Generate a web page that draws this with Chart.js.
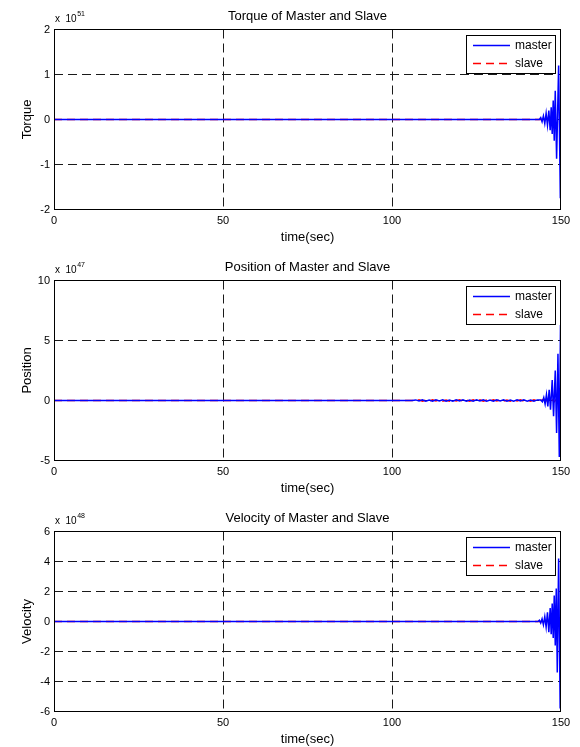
<!DOCTYPE html>
<html>
<head>
<meta charset="utf-8">
<title>Master and Slave</title>
<script src="https://cdn.jsdelivr.net/npm/chart.js@4.4.1/dist/chart.umd.min.js"></script>
<style>
  html, body { margin: 0; padding: 0; background: #fff; }
  body { width: 580px; height: 747px; overflow: hidden; position: relative; }
  .panel { position: absolute; left: 0; width: 580px; height: 251px; }
</style>
</head>
<body>
<div class="panel" style="top:0"><canvas id="torque" width="580" height="251"></canvas></div>
<div class="panel" style="top:251px"><canvas id="position" width="580" height="251"></canvas></div>
<div class="panel" style="top:502px"><canvas id="velocity" width="580" height="251"></canvas></div>
<script>
// shared time axis (sec)
const xTicks = [0, 50, 100, 150];

// Torque, units of 10^51
const torqueTicks = [-2, -1, 0, 1, 2];
const torqueMasterTime = [0, 143.6, 144.0, 144.4, 144.8, 145.2, 145.6, 146.0, 146.4, 146.8, 147.1, 147.4, 147.7, 148.0, 148.3, 148.7, 149.3, 149.8];
const torqueMaster     = [0, 0, 0.04, -0.05, 0.08, -0.09, 0.14, -0.13, 0.2, -0.24, 0.27, -0.32, 0.42, -0.47, 0.64, -0.87, 1.2, -1.75];
const torqueSlaveTime  = [0, 147, 148, 149, 149.5, 150];
const torqueSlave      = [0, 0, 0.01, -0.02, 0.03, 0.05];

// Position, units of 10^47
const positionTicks = [-5, 0, 5, 10];
const positionMasterTime = [0, 106,
  107, 108, 109, 110, 111, 112, 113, 114, 115, 116, 117, 118, 119, 120, 121, 122, 123, 124, 125,
  126, 127, 128, 129, 130, 131, 132, 133, 134, 135, 136, 137, 138, 139, 140, 141, 142, 143,
  144, 144.5, 144.9, 145.3, 145.7, 146.1, 146.5, 146.9, 147.4, 147.8, 148.3, 148.7, 149.1, 149.5, 149.85];
const positionMaster = [0, 0,
  0.05, -0.04, 0.06, -0.05, 0.04, -0.06, 0.05, -0.03, 0.06, -0.05, 0.04, -0.06, 0.05, -0.04, 0.06, -0.05, 0.03, -0.06, 0.05,
  -0.04, 0.06, -0.05, 0.04, -0.06, 0.05, -0.04, 0.06, -0.05, 0.04, -0.06, 0.05, -0.04, 0.06, -0.05, 0.04, -0.06, 0.05,
  0.05, -0.1, 0.25, -0.3, 0.5, -0.5, 0.89, -0.77, 1.7, -1.3, 2.5, -2.7, 3.9, -4.7, 6.3];
const positionSlaveTime = [0, 106,
  107, 108, 109, 110, 111, 112, 113, 114, 115, 116, 117, 118, 119, 120, 121, 122, 123, 124, 125,
  126, 127, 128, 129, 130, 131, 132, 133, 134, 135, 136, 137, 138, 139, 140, 141, 142, 143,
  144, 145, 146, 147, 148, 149, 150];
const positionSlave = [0, 0,
  -0.04, 0.05, -0.06, 0.04, -0.05, 0.06, -0.03, 0.05, -0.06, 0.04, -0.05, 0.06, -0.04, 0.05, -0.06, 0.03, -0.05, 0.06, -0.04,
  0.05, -0.06, 0.04, -0.05, 0.06, -0.04, 0.05, -0.06, 0.04, -0.05, 0.06, -0.04, 0.05, -0.06, 0.04, -0.05, 0.06, -0.04,
  0, 0.1, -0.05, 0.15, -0.1, 0.2, -0.1];

// Velocity, units of 10^48
const velocityTicks = [-6, -4, -2, 0, 2, 4, 6];
const velocityMasterTime = [0, 143.2, 143.6, 144.0, 144.4, 144.8, 145.2, 145.6, 146.0, 146.4, 146.8, 147.1, 147.4, 147.7, 148.0, 148.3, 148.6, 148.9, 149.3, 149.75];
const velocityMaster     = [0, 0, 0.08, -0.1, 0.18, -0.22, 0.32, -0.38, 0.62, -0.71, 0.9, -0.85, 1.2, -1.1, 1.73, -1.6, 2.2, -3.4, 4.2, -5.8];
const velocitySlaveTime  = [0, 148, 149, 149.6, 150];
const velocitySlave      = [0, 0, 0.05, -0.05, 0.1];

const FONT = 'Arial, "Liberation Sans", sans-serif';
const MASTER_COLOR = '#0000ff';
const SLAVE_COLOR = '#ff0000';
const SLAVE_DASH = [8, 5];
const GRID_DASH = [9, 5];
const LINE_W = 1.5;

function toPoints(times, values) {
  return times.map((t, i) => ({ x: t, y: values[i] }));
}

// title, exponent note, box and legend drawn the MATLAB way
const matlabFrame = {
  id: 'matlabFrame',
  afterDraw(chart, args, opts) {
    const { ctx, chartArea: ca } = chart;
    const left = Math.round(ca.left), top = Math.floor(ca.top);
    const right = Math.round(ca.right), bottom = Math.floor(ca.bottom);
    ctx.save();

    // axes box
    ctx.strokeStyle = '#000';
    ctx.lineWidth = 1;
    ctx.setLineDash([]);
    ctx.strokeRect(left + 0.5, top + 0.5, right - left - 1, bottom - top);

    // title
    ctx.fillStyle = '#000';
    ctx.font = '13px ' + FONT;
    ctx.textAlign = 'center';
    ctx.textBaseline = 'alphabetic';
    ctx.fillText(opts.title, (left + right) / 2, top - 9.5);

    // exponent note
    ctx.textAlign = 'left';
    ctx.font = '10px ' + FONT;
    ctx.fillText('x  10', left + 1, top - 7.5);
    const w = ctx.measureText('x  10').width;
    ctx.font = '7px ' + FONT;
    ctx.fillText(opts.exponent, left + 1 + w + 0.5, top - 13);

    // legend
    const bx = right - 95, by = top + 6, bw = 89, bh = 38;
    ctx.fillStyle = '#fff';
    ctx.fillRect(bx, by, bw, bh);
    ctx.strokeStyle = '#000';
    ctx.strokeRect(bx + 0.5, by + 0.5, bw, bh);
    const entries = [
      { label: 'master', color: MASTER_COLOR, dash: [] },
      { label: 'slave', color: SLAVE_COLOR, dash: SLAVE_DASH },
    ];
    entries.forEach((e, i) => {
      const y = by + 10.5 + i * 18;
      ctx.strokeStyle = e.color;
      ctx.lineWidth = LINE_W;
      ctx.setLineDash(e.dash);
      ctx.beginPath();
      ctx.moveTo(bx + 7, y);
      ctx.lineTo(bx + 44, y);
      ctx.stroke();
      ctx.setLineDash([]);
      ctx.fillStyle = '#000';
      ctx.font = '12px ' + FONT;
      ctx.textBaseline = 'middle';
      ctx.fillText(e.label, bx + 49, y + 0.5);
    });
    ctx.restore();
  }
};

function buildPanel(id, title, exponent, yLabel, yTicks, masterT, masterY, slaveT, slaveY) {
  const yMin = yTicks[0], yMax = yTicks[yTicks.length - 1];
  const xMin = xTicks[0], xMax = xTicks[xTicks.length - 1];
  const gridColor = (lo, hi) => c =>
    (c.tick && (c.tick.value === lo || c.tick.value === hi)) ? 'rgba(0,0,0,0)' : '#1a1a1a';

  new Chart(document.getElementById(id), {
    type: 'line',
    data: {
      datasets: [
        {
          label: 'master',
          data: toPoints(masterT, masterY),
          borderColor: MASTER_COLOR,
          borderWidth: LINE_W,
          pointRadius: 0,
          tension: 0,
        },
        {
          label: 'slave',
          data: toPoints(slaveT, slaveY),
          borderColor: SLAVE_COLOR,
          borderWidth: LINE_W,
          borderDash: SLAVE_DASH,
          pointRadius: 0,
          tension: 0,
        },
      ],
    },
    options: {
      responsive: false,
      animation: false,
      events: [],
      // half-pixel top so the zero lines land on pixel centres
      layout: { padding: { top: 29.5, right: 19, left: 0, bottom: 0 } },
      scales: {
        x: {
          type: 'linear',
          min: xMin,
          max: xMax,
          afterBuildTicks: s => { s.ticks = xTicks.map(v => ({ value: v })); },
          afterFit: s => { s.height = 41.5; },
          grid: { color: gridColor(xMin, xMax), drawTicks: false, lineWidth: 1 },
          border: { display: false, dash: GRID_DASH },
          ticks: { color: '#000', padding: 5, font: { family: FONT, size: 11 } },
          title: {
            display: true, text: 'time(sec)', color: '#000',
            font: { family: FONT, size: 13 }, padding: { top: 0, bottom: 6 },
          },
        },
        y: {
          min: yMin,
          max: yMax,
          afterBuildTicks: s => { s.ticks = yTicks.map(v => ({ value: v })); },
          afterFit: s => { s.width = 54; },
          grid: { color: gridColor(yMin, yMax), drawTicks: false, lineWidth: 1 },
          border: { display: false, dash: GRID_DASH },
          ticks: { color: '#000', padding: 4, font: { family: FONT, size: 11 } },
          title: {
            display: true, text: yLabel, color: '#000',
            font: { family: FONT, size: 13 }, padding: { top: 20, bottom: 0 },
          },
        },
      },
      plugins: {
        legend: { display: false },
        tooltip: { enabled: false },
        matlabFrame: { title, exponent },
      },
    },
    plugins: [matlabFrame],
  });
}

buildPanel('torque', 'Torque of Master and Slave', '51', 'Torque', torqueTicks,
  torqueMasterTime, torqueMaster, torqueSlaveTime, torqueSlave);
buildPanel('position', 'Position of Master and Slave', '47', 'Position', positionTicks,
  positionMasterTime, positionMaster, positionSlaveTime, positionSlave);
buildPanel('velocity', 'Velocity of Master and Slave', '48', 'Velocity', velocityTicks,
  velocityMasterTime, velocityMaster, velocitySlaveTime, velocitySlave);
</script>
</body>
</html>
